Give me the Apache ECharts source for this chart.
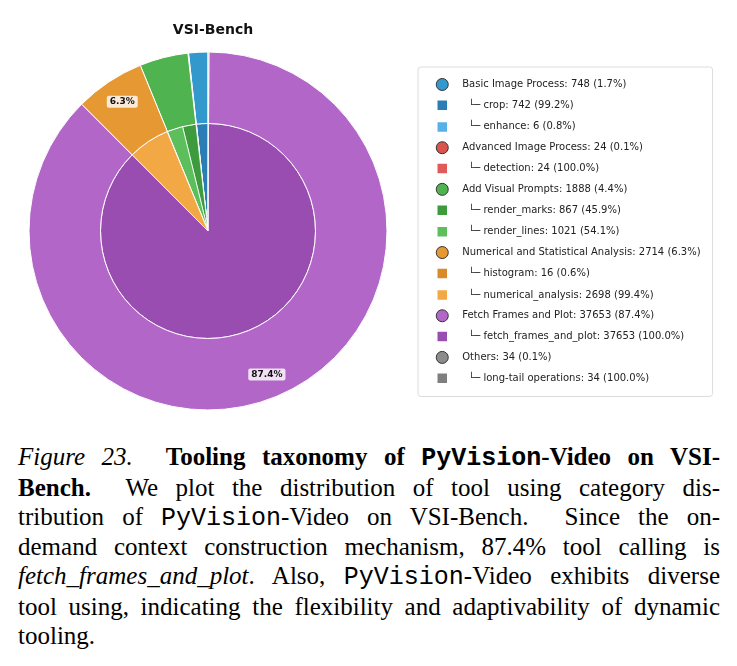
<!DOCTYPE html>
<html>
<head>
<meta charset="utf-8">
<script src="https://cdn.jsdelivr.net/npm/echarts@6/dist/echarts.min.js"></script>
<style>
  html, body { margin: 0; padding: 0; background: #fff; }
  #chart { position: absolute; left: 0; top: 0; width: 737px; height: 430px; }
  #caption {
    position: absolute; left: 18px; top: 443px; width: 702px;
    font-family: "Liberation Serif", serif; font-size: 25px; line-height: 28.8px; color: #000;
  }
  #caption .ln { white-space: nowrap; text-align: justify; text-align-last: justify; }
  #caption .last { text-align-last: left; }
  #caption .tt { font-family: "Liberation Mono", monospace; }
</style>
</head>
<body>
<div id="chart"></div>
<div id="caption">
  <div class="ln"><i>Figure 23.</i>&nbsp; <b>Tooling taxonomy of <span class="tt">PyVision</span>-Video on VSI-</b></div>
  <div class="ln"><b>Bench.</b>&nbsp; We plot the distribution of tool using category dis-</div>
  <div class="ln">tribution of <span class="tt">PyVision</span>-Video on VSI-Bench.&nbsp; Since the on-</div>
  <div class="ln">demand context construction mechanism, 87.4% tool calling is</div>
  <div class="ln"><i>fetch_frames_and_plot</i>. Also, <span class="tt">PyVision</span>-Video exhibits diverse</div>
  <div class="ln">tool using, indicating the flexibility and adaptivability of dynamic</div>
  <div class="ln last">tooling.</div>
</div>
<script>
// top level categories
var categories = ['Basic Image Process', 'Advanced Image Process', 'Add Visual Prompts',
  'Numerical and Statistical Analysis', 'Fetch Frames and Plot', 'Others'];
var categoryColors = ['#3399cc', '#d9534f', '#4fb34f', '#e69833', '#b266c8', '#8c8c8c'];

// tools, grouped by category index
var tools = ['crop', 'enhance', 'detection', 'render_marks', 'render_lines',
  'histogram', 'numerical_analysis', 'fetch_frames_and_plot', 'long-tail operations'];
var toolCounts = [742, 6, 24, 867, 1021, 16, 2698, 37653, 34];
var toolCategory = [0, 0, 1, 2, 2, 3, 3, 4, 5];
var toolColors = ['#2a7db5', '#56b2e6', '#e05a5a', '#3d9a3d', '#5cbf5c',
  '#d98a2a', '#f2a845', '#9a4db0', '#7f7f7f'];

var categoryCounts = categories.map(function (c, i) {
  var s = 0;
  toolCounts.forEach(function (v, j) { if (toolCategory[j] === i) s += v; });
  return s;
});
var total = categoryCounts.reduce(function (a, b) { return a + b; }, 0);

var legendText = {};
var legendData = [];
categories.forEach(function (c, i) {
  legendText[c] = c + ': ' + categoryCounts[i] + ' (' + (categoryCounts[i] / total * 100).toFixed(1) + '%)';
  legendData.push({ name: c, icon: 'circle', itemStyle: { color: categoryColors[i], borderColor: '#333', borderWidth: 1 } });
  tools.forEach(function (t, j) {
    if (toolCategory[j] !== i) return;
    legendText[t] = '{sub|\u2514\u2500 ' + t + ': ' + toolCounts[j] + ' (' + (toolCounts[j] / categoryCounts[i] * 100).toFixed(1) + '%)}';
    legendData.push({ name: t, icon: 'rect', itemStyle: { color: toolColors[j], borderColor: '#fff', borderWidth: 2.5 } });
  });
});

var outerData = categories.map(function (c, i) {
  return { name: c, value: categoryCounts[i], itemStyle: { color: categoryColors[i] } };
});
var innerData = tools.map(function (t, j) {
  return { name: t, value: toolCounts[j], itemStyle: { color: toolColors[j] } };
});
var labelData = categories.map(function (c, i) {
  return { name: c, value: categoryCounts[i], label: { show: categoryCounts[i] / total > 0.05 } };
});

var chart = echarts.init(document.getElementById('chart'));
var center = [208, 231];
chart.setOption({
  animation: false,
  title: {
    text: 'VSI-Bench',
    left: 208, top: 18, textAlign: 'center',
    textStyle: { fontFamily: 'DejaVu Sans', fontSize: 14, fontWeight: 'bold', color: '#111' }
  },
  legend: {
    orient: 'vertical',
    left: 418, top: 67,
    padding: [11, 12, 11, 17],
    itemWidth: 12, itemHeight: 12, itemGap: 7.07,
    backgroundColor: '#fff',
    borderColor: '#dcdcdc', borderWidth: 1, borderRadius: 3,
    selectedMode: false,
    data: legendData,
    formatter: function (name) { return legendText[name]; },
    textStyle: {
      fontFamily: 'DejaVu Sans', fontSize: 10, color: '#222', lineHeight: 12,
      padding: [0, 0, 0, 9],
      rich: { sub: { fontFamily: 'DejaVu Sans', fontSize: 10, color: '#222', lineHeight: 12, padding: [0, 0, 0, 6] } }
    }
  },
  series: [{
    type: 'pie',
    center: center, radius: [0, 107.5],
    startAngle: 90, clockwise: false,
    label: { show: false }, labelLine: { show: false },
    itemStyle: { borderColor: '#fff', borderWidth: 0.8 },
    data: innerData
  }, {
    type: 'pie',
    center: center, radius: [107.5, 179],
    startAngle: 90, clockwise: false,
    label: { show: false }, labelLine: { show: false },
    itemStyle: { borderColor: '#fff', borderWidth: 1 },
    data: outerData
  }, {
    // percent labels for the big categories
    type: 'pie', silent: true,
    center: center, radius: [125, 179],
    startAngle: 90, clockwise: false,
    itemStyle: { color: 'rgba(0,0,0,0)', borderWidth: 0 },
    labelLine: { show: false },
    label: {
      position: 'inside',
      fontFamily: 'DejaVu Sans', fontSize: 9, fontWeight: 'bold', color: '#111',
      backgroundColor: 'rgba(255,255,255,0.8)', borderRadius: 2, padding: [2, 3, 1, 3],
      formatter: function (p) { return (p.value / total * 100).toFixed(1) + '%'; }
    },
    data: labelData
  }]
});
</script>
</body>
</html>
